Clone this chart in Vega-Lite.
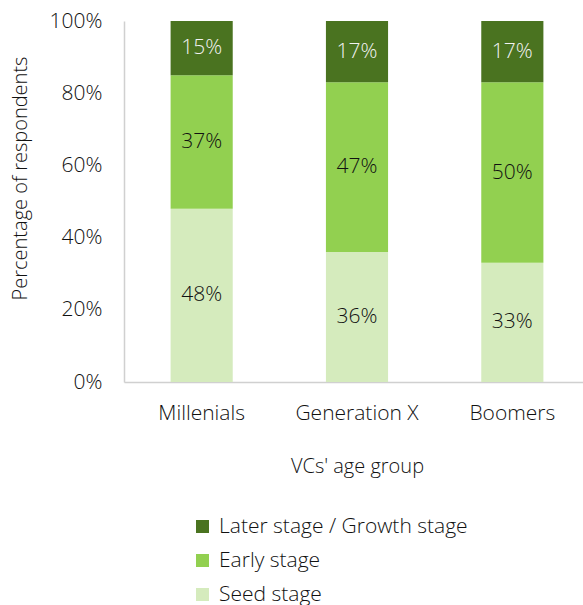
{
  "$schema": "https://vega.github.io/schema/vega-lite/v6.json",
  "autosize": "none",
  "width": 466,
  "height": 361,
  "padding": {"left": 124, "top": 21, "right": -7, "bottom": 223},
  "background": "white",
  "config": {
    "view": {"stroke": null},
    "font": "Open Sans",
    "axis": {"labelFont": "Open Sans", "titleFont": "Open Sans", "labelColor": "#111111", "titleColor": "#111111", "titleFontWeight": 300, "labelFontWeight": 300},
    "legend": {"labelFont": "Open Sans", "labelFontWeight": 300}
  },
  "data": {
    "values": [
      {"group": "Millenials", "stage": "Seed stage", "value": 48},
      {"group": "Millenials", "stage": "Early stage", "value": 37},
      {"group": "Millenials", "stage": "Later stage / Growth stage", "value": 15},
      {"group": "Generation X", "stage": "Seed stage", "value": 36},
      {"group": "Generation X", "stage": "Early stage", "value": 47},
      {"group": "Generation X", "stage": "Later stage / Growth stage", "value": 17},
      {"group": "Boomers", "stage": "Seed stage", "value": 33},
      {"group": "Boomers", "stage": "Early stage", "value": 50},
      {"group": "Boomers", "stage": "Later stage / Growth stage", "value": 17}
    ]
  },
  "transform": [
    {"calculate": "indexof(['Seed stage','Early stage','Later stage / Growth stage'], datum.stage)", "as": "ord"},
    {"stack": "value", "groupby": ["group"], "sort": [{"field": "ord", "order": "ascending"}], "as": ["v0", "v1"]},
    {"calculate": "(datum.v0 + datum.v1) / 2", "as": "mid"},
    {"calculate": "datum.value + '%'", "as": "lbl"}
  ],
  "encoding": {
    "x": {
      "field": "group", "type": "nominal",
      "sort": ["Millenials", "Generation X", "Boomers"],
      "scale": {"paddingInner": 0.6, "paddingOuter": 0.3},
      "axis": {"title": "VCs' age group", "labelAngle": 0, "ticks": false, "labelPadding": 20, "labelFontSize": 21, "titleFontSize": 20, "titlePadding": 33, "domainColor": "#d0d0d0", "domainWidth": 1.5}
    }
  },
  "layer": [
    {
      "mark": {"type": "bar"},
      "encoding": {
        "y": {
          "field": "v0", "type": "quantitative",
          "scale": {"domain": [0, 100]},
          "axis": {"title": "Percentage of respondents", "values": [0, 20, 40, 60, 80, 100], "labelExpr": "datum.value + '%'", "grid": false, "ticks": false, "labelPadding": 22, "labelFontSize": 21, "titleFontSize": 20, "titlePadding": 19, "titleY": 157, "domainColor": "#d0d0d0", "domainWidth": 1.5}
        },
        "y2": {"field": "v1"},
        "color": {
          "field": "stage", "type": "nominal",
          "scale": {"domain": ["Later stage / Growth stage", "Early stage", "Seed stage"], "range": ["#4a7320", "#92d050", "#d5ebbd"]},
          "legend": {"title": null, "orient": "none", "legendX": 68, "legendY": 495, "direction": "vertical", "symbolType": "square", "symbolSize": 170, "symbolStrokeWidth": 0, "labelFontSize": 21, "labelColor": "#111111", "labelLimit": 0, "rowPadding": 12, "labelOffset": 6}
        }
      }
    },
    {
      "mark": {"type": "text", "fontSize": 21, "fontWeight": 300, "baseline": "middle", "align": "center"},
      "encoding": {
        "y": {"field": "mid", "type": "quantitative"},
        "text": {"field": "lbl"},
        "color": {
          "condition": {"test": "datum.stage === 'Later stage / Growth stage'", "value": "#f2f2f2"},
          "value": "#111111"
        }
      }
    }
  ]
}
